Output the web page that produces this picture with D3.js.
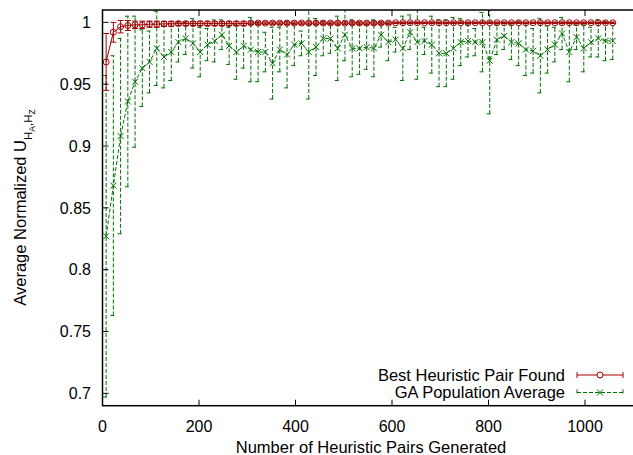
<!DOCTYPE html>
<html>
<head>
<meta charset="utf-8">
<script src="https://cdn.jsdelivr.net/npm/d3@7"></script>
<style>
body { margin: 0; background: #fff; }
text { font-family: "Liberation Sans", Arial, sans-serif; fill: #000; }
</style>
</head>
<body>
<script>
let pairs = [7.5, 22.5, 37.5, 52.5, 67.5, 82.5, 97.5, 112.5, 127.5, 142.5,
    157.5, 172.5, 187.5, 202.5, 217.5, 232.5, 247.5, 262.5, 277.5, 292.5,
    307.5, 322.5, 337.5, 352.5, 367.5, 382.5, 397.5, 412.5, 427.5, 442.5,
    457.5, 472.5, 487.5, 502.5, 517.5, 532.5, 547.5, 562.5, 577.5, 592.5,
    607.5, 622.5, 637.5, 652.5, 667.5, 682.5, 697.5, 712.5, 727.5, 742.5,
    757.5, 772.5, 787.5, 802.5, 817.5, 832.5, 847.5, 862.5, 877.5, 892.5,
    907.5, 922.5, 937.5, 952.5, 967.5, 982.5, 997.5, 1012.5, 1027.5, 1042.5, 1057.5]

let bestMean = [0.968, 0.992, 0.9965, 0.9975, 0.998, 0.998, 0.9985, 0.9985, 0.9988, 0.9988,
    0.999, 0.999, 0.999, 0.999, 0.999, 0.999, 0.999, 0.999, 0.999, 0.999,
    0.9994, 0.9994, 0.9994, 0.9994, 0.9994, 0.9994, 0.9994, 0.9994, 0.9994, 0.9994,
    0.9994, 0.9994, 0.9994, 0.9994, 0.9994, 0.9994, 0.9994, 0.9994, 0.9994, 0.9994,
    0.9997, 0.9997, 0.9997, 0.9997, 0.9997, 0.9997, 0.9997, 0.9997, 0.9997, 0.9997,
    0.9997, 0.9997, 0.9997, 0.9997, 0.9997, 0.9997, 0.9997, 0.9997, 0.9997, 0.9997,
    0.9997, 0.9997, 0.9997, 0.9997, 0.9997, 0.9997, 0.9997, 0.9997, 0.9997, 0.9997, 0.9997]

let bestErr = [0.023, 0.008, 0.005, 0.004, 0.003, 0.003, 0.0025, 0.0025, 0.002, 0.002,
    0.0015, 0.0015, 0.0015, 0.0015, 0.0015, 0.0015, 0.0015, 0.0015, 0.0015, 0.0015,
    0.001, 0.001, 0.001, 0.001, 0.001, 0.001, 0.001, 0.001, 0.001, 0.001,
    0.001, 0.001, 0.001, 0.001, 0.001, 0.001, 0.001, 0.001, 0.001, 0.001,
    0.0006, 0.0006, 0.0006, 0.0006, 0.0006, 0.0006, 0.0006, 0.0006, 0.0006, 0.0006,
    0.0006, 0.0006, 0.0006, 0.0006, 0.0006, 0.0006, 0.0006, 0.0006, 0.0006, 0.0006,
    0.0006, 0.0006, 0.0006, 0.0006, 0.0006, 0.0006, 0.0006, 0.0006, 0.0006, 0.0006, 0.0006]

let gaMean = [0.827, 0.868, 0.908, 0.936, 0.952, 0.963, 0.968, 0.979, 0.972, 0.976,
    0.984, 0.987, 0.983, 0.976, 0.982, 0.985, 0.990, 0.981, 0.976, 0.981,
    0.978, 0.976, 0.976, 0.967, 0.978, 0.974, 0.982, 0.983, 0.976, 0.980,
    0.987, 0.987, 0.979, 0.990, 0.979, 0.979, 0.980, 0.979, 0.990, 0.984,
    0.986, 0.979, 0.992, 0.984, 0.985, 0.982, 0.975, 0.975, 0.979, 0.984,
    0.985, 0.984, 0.984, 0.969, 0.986, 0.989, 0.984, 0.983, 0.978, 0.977,
    0.973, 0.978, 0.982, 0.991, 0.976, 0.988, 0.979, 0.984, 0.987, 0.985, 0.985]

let gaErr = [0.130, 0.105, 0.079, 0.069, 0.053, 0.031, 0.025, 0.030, 0.025, 0.023,
    0.016, 0.013, 0.020, 0.020, 0.013, 0.017, 0.012, 0.015, 0.022, 0.018,
    0.026, 0.024, 0.016, 0.029, 0.018, 0.027, 0.017, 0.010, 0.038, 0.023,
    0.014, 0.012, 0.026, 0.021, 0.023, 0.021, 0.018, 0.023, 0.010, 0.015,
    0.010, 0.026, 0.014, 0.030, 0.011, 0.023, 0.027, 0.027, 0.025, 0.019,
    0.013, 0.011, 0.024, 0.043, 0.012, 0.011, 0.014, 0.018, 0.021, 0.018,
    0.030, 0.019, 0.014, 0.013, 0.024, 0.010, 0.019, 0.012, 0.015, 0.016, 0.015]

let xTicks = [0, 200, 400, 600, 800, 1000]
let yTicks = [0.7, 0.75, 0.8, 0.85, 0.9, 0.95, 1]
let yTickLabels = ['0.7', '0.75', '0.8', '0.85', '0.9', '0.95', '1']
let seriesNames = ['Best Heuristic Pair Found', 'GA Population Average']

SVG_WIDTH = 633
SVG_HEIGHT = 455
LEFT = 102.5
RIGHT = 634
TOP = 10
BOTTOM = 405.7
RED = '#a00000'
GREEN = '#007000'
DASH = '4,2'

let x = d3.scaleLinear().domain([0, 1100]).range([LEFT, 633.25])
let y = d3.scaleLinear().domain([0.69, 1.01]).range([BOTTOM, TOP])

let svg = d3.select('body').append('svg')
            .attr('width', SVG_WIDTH)
            .attr('height', SVG_HEIGHT)

svg.append('clipPath').attr('id', 'plot-clip')
    .append('rect')
    .attr('x', LEFT).attr('y', TOP)
    .attr('width', RIGHT - LEFT).attr('height', BOTTOM - TOP)

let ga = pairs.map((p, i) => ({x: p, m: gaMean[i], e: gaErr[i]}))
let best = pairs.map((p, i) => ({x: p, m: bestMean[i], e: bestErr[i]}))

let plot = svg.append('g').attr('clip-path', 'url(#plot-clip)')

// error bars: vertical line plus a cap at each end
let drawBars = (data, color, dash, cls) => {
    let g = plot.append('g').attr('class', cls)
        .attr('stroke', color).attr('stroke-width', 1).attr('fill', 'none')
        .attr('stroke-dasharray', dash)
    g.selectAll('.bar').data(data).join('path')
        .classed('bar', true)
        .attr('d', d => {
            let cx = x(d.x), lo = y(d.m - d.e), hi = y(d.m + d.e)
            return `M${cx},${lo}V${hi}M${cx - 3},${hi}H${cx + 3}M${cx - 3},${lo}H${cx + 3}`
        })
}

let line = d3.line().x(d => x(d.x)).y(d => y(d.m))

drawBars(ga, GREEN, DASH, 'ga-bars')
plot.append('path').datum(ga)
    .attr('d', line)
    .attr('fill', 'none').attr('stroke', GREEN).attr('stroke-width', 1)
    .attr('stroke-dasharray', DASH)
plot.selectAll('.ga-mark').data(ga).join('path')
    .classed('ga-mark', true)
    .attr('d', d => {
        let cx = x(d.x), cy = y(d.m)
        return `M${cx - 3},${cy - 3}L${cx + 3},${cy + 3}M${cx - 3},${cy + 3}L${cx + 3},${cy - 3}`
    })
    .attr('stroke', GREEN).attr('stroke-width', 1)

drawBars(best, RED, null, 'best-bars')
plot.append('path').datum(best)
    .attr('d', line)
    .attr('fill', 'none').attr('stroke', RED).attr('stroke-width', 1)
plot.selectAll('.best-mark').data(best).join('circle')
    .classed('best-mark', true)
    .attr('cx', d => x(d.x))
    .attr('cy', d => y(d.m))
    .attr('r', 3)
    .attr('fill', 'none').attr('stroke', RED).attr('stroke-width', 1)

// frame and inward ticks
svg.append('rect')
    .attr('x', LEFT).attr('y', TOP)
    .attr('width', RIGHT - LEFT).attr('height', BOTTOM - TOP)
    .attr('fill', 'none').attr('stroke', '#000').attr('stroke-width', 1.5)

svg.selectAll('.xtick').data(xTicks).join('path')
    .classed('xtick', true)
    .attr('d', d => `M${x(d)},${BOTTOM}v-6M${x(d)},${TOP}v6`)
    .attr('stroke', '#000').attr('stroke-width', 1)

svg.selectAll('.ytick').data(yTicks).join('path')
    .classed('ytick', true)
    .attr('d', d => `M${LEFT},${y(d)}h6`)
    .attr('stroke', '#000').attr('stroke-width', 1)

svg.selectAll('.xlabel').data(xTicks).join('text')
    .classed('xlabel', true)
    .attr('x', d => x(d))
    .attr('y', 431.5)
    .attr('text-anchor', 'middle')
    .style('font-size', '16px')
    .text(d => d)

svg.selectAll('.ylabel').data(yTicks).join('text')
    .classed('ylabel', true)
    .attr('x', 91)
    .attr('y', d => y(d) + 5.8)
    .attr('text-anchor', 'end')
    .style('font-size', '16px')
    .text((d, i) => yTickLabels[i])

svg.append('text')
    .attr('x', 371)
    .attr('y', 452.5)
    .attr('text-anchor', 'middle')
    .style('font-size', '16.5px')
    .text('Number of Heuristic Pairs Generated')

let yTitle = svg.append('text')
    .attr('transform', 'translate(25.5,207.5) rotate(-90)')
    .attr('text-anchor', 'middle')
    .style('font-size', '16.5px')
yTitle.append('tspan').text('Average Normalized U')
yTitle.append('tspan').attr('dy', 6.5).style('font-size', '11.5px').text('H')
yTitle.append('tspan').attr('dy', 2.5).style('font-size', '8.5px').text('A')
yTitle.append('tspan').attr('dy', -2.5).style('font-size', '11.5px').text(',H')
yTitle.append('tspan').attr('dy', 2.5).style('font-size', '8.5px').text('Z')

// legend
let legend = svg.append('g')
let rows = [
    {name: seriesNames[0], color: RED, dash: null, mark: 'circle', y: 375},
    {name: seriesNames[1], color: GREEN, dash: DASH, mark: 'cross', y: 392.5}
]
rows.forEach(r => {
    legend.append('text')
        .attr('x', 565).attr('y', r.y + 5.8)
        .attr('text-anchor', 'end')
        .style('font-size', '16.5px')
        .text(r.name)
    legend.append('path')
        .attr('d', `M577,${r.y}H623M577,${r.y - 3}v6M623,${r.y - 3}v6`)
        .attr('stroke', r.color).attr('stroke-width', 1).attr('fill', 'none')
        .attr('stroke-dasharray', r.dash)
    if (r.mark == 'circle') {
        legend.append('circle').attr('cx', 600).attr('cy', r.y).attr('r', 3)
            .attr('fill', '#fff').attr('stroke', r.color)
    } else {
        legend.append('path')
            .attr('d', `M597,${r.y - 3}L603,${r.y + 3}M597,${r.y + 3}L603,${r.y - 3}`)
            .attr('stroke', r.color)
    }
})
</script>
</body>
</html>
